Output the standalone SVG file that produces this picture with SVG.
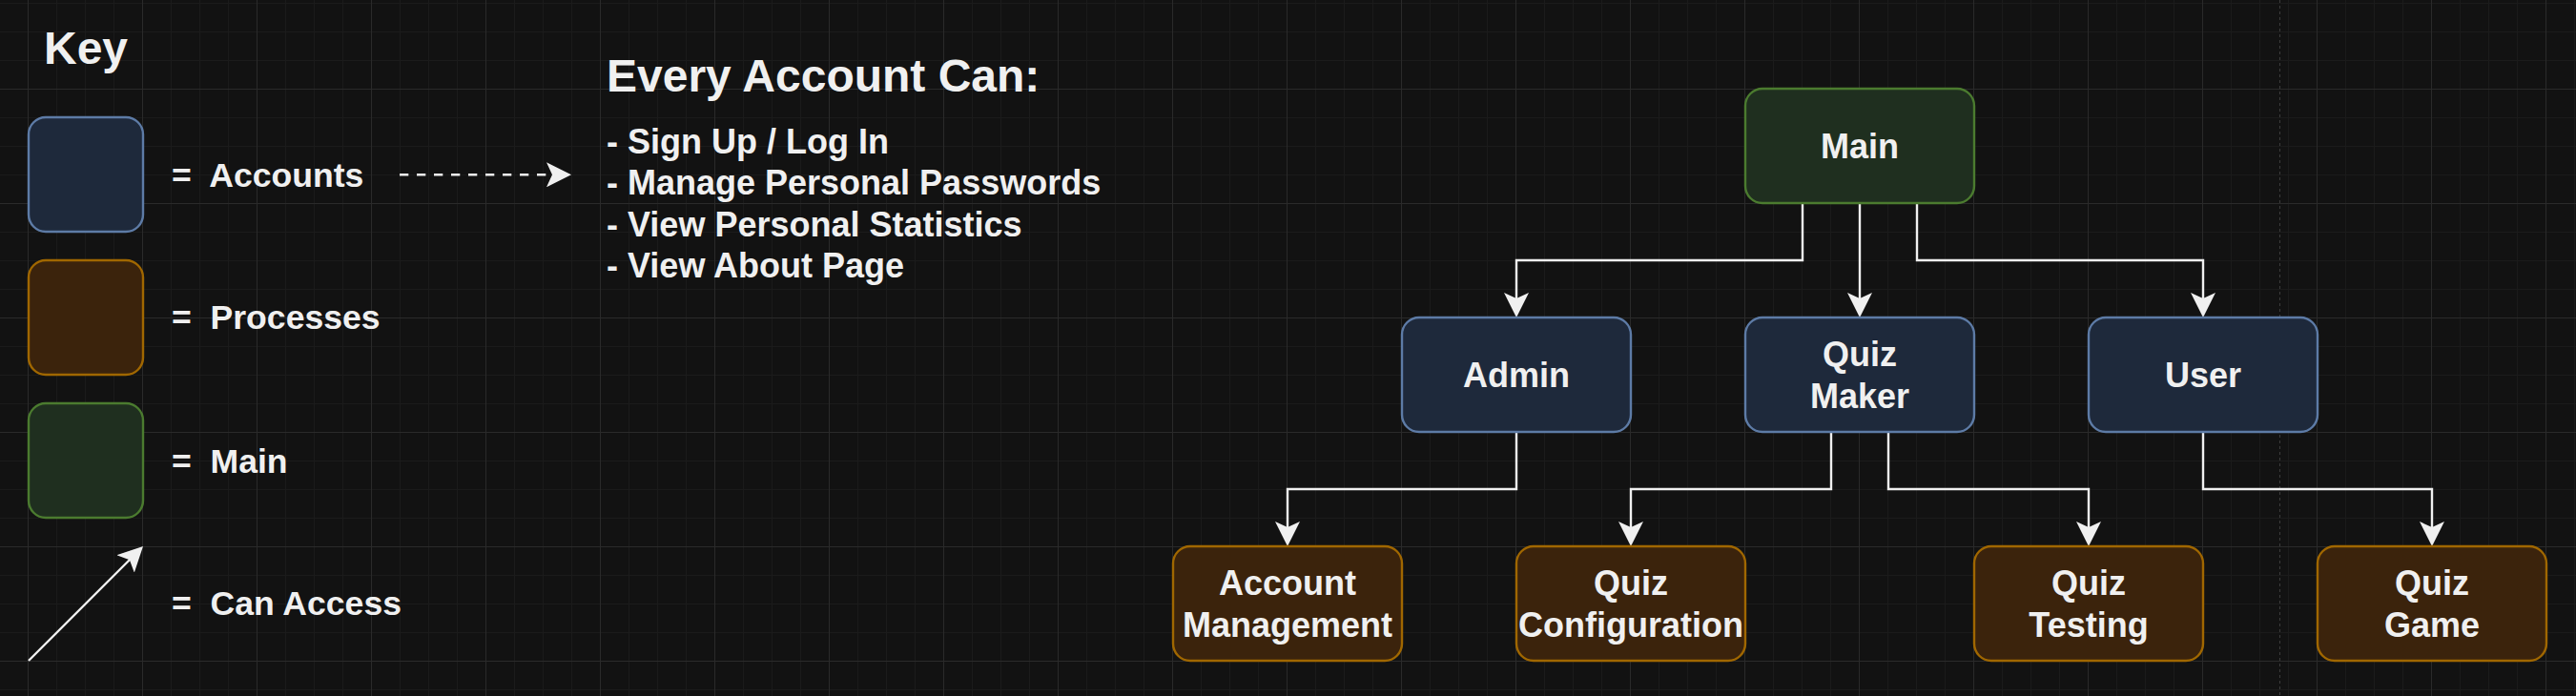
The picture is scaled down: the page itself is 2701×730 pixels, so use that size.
<svg xmlns="http://www.w3.org/2000/svg" width="2701" height="730" viewBox="0 0 2701 730">
<style>
text{font-family:"Liberation Sans",Arial,Helvetica,sans-serif;font-weight:bold;fill:#f0f0f0}
.lbl{font-size:36px;text-anchor:middle}
.acc{fill:#1e293b;stroke:#5d7ba6;stroke-width:2.4}
.proc{fill:#3b230c;stroke:#a06700;stroke-width:2.4}
.main{fill:#1f2f1f;stroke:#4b7b2f;stroke-width:2.4}
.edge{fill:none;stroke:#f0f0f0;stroke-width:2.4}
</style>
<defs>
<pattern id="grid" width="120" height="120" patternUnits="userSpaceOnUse" x="29" y="93">
<path d="M30.5 0V120M60.5 0V120M90.5 0V120M0 30.5H120M0 60.5H120M0 90.5H120" stroke="#1b1b1b" stroke-width="1" fill="none"/>
<path d="M0.5 0V120M0 0.5H120" stroke="#2a2a2a" stroke-width="1" fill="none"/>
</pattern>
<marker id="arr" viewBox="0 0 26 26" refX="20" refY="13" markerWidth="26" markerHeight="26" markerUnits="userSpaceOnUse" orient="auto">
<path d="M26,13 L0,0 L6,13 L0,26 Z" fill="#f0f0f0"/>
</marker>
</defs>
<rect width="2701" height="730" fill="#121212"/>
<rect width="2701" height="730" fill="url(#grid)"/>
<line x1="2390.5" y1="0" x2="2390.5" y2="730" stroke="#3c3c3c" stroke-width="1" stroke-dasharray="3 3"/>

<g id="key">
<text x="90" y="67" style="font-size:48px;text-anchor:middle">Key</text>
<rect class="acc" x="30" y="123" width="120" height="120" rx="18"/>
<rect class="proc" x="30" y="273" width="120" height="120" rx="18"/>
<rect class="main" x="30" y="423" width="120" height="120" rx="18"/>
<text x="180" y="196" xml:space="preserve" style="font-size:35.6px">=  Accounts</text>
<text x="180" y="345" xml:space="preserve" style="font-size:35.6px">=  Processes</text>
<text x="180" y="496" xml:space="preserve" style="font-size:35.6px">=  Main</text>
<text x="180" y="645" xml:space="preserve" style="font-size:35.6px">=  Can Access</text>
<path class="edge" d="M30,693 L145.76,577.24" marker-end="url(#arr)"/>
<path class="edge" d="M419,183.3 H593" stroke-dasharray="9.3 8.7" marker-end="url(#arr)"/>
</g>

<g id="every-account">
<text x="636" y="96" style="font-size:48px">Every Account Can:</text>
<text x="636" y="161" style="font-size:36px">- Sign Up / Log In</text>
<text x="636" y="204" style="font-size:36px">- Manage Personal Passwords</text>
<text x="636" y="247.5" style="font-size:36px">- View Personal Statistics</text>
<text x="636" y="290.5" style="font-size:36px">- View About Page</text>
</g>

<g id="connectors">
<path class="edge" d="M1890,213 V273 H1590 V327" marker-end="url(#arr)"/>
<path class="edge" d="M1950,213 V327" marker-end="url(#arr)"/>
<path class="edge" d="M2010,213 V273 H2310 V327" marker-end="url(#arr)"/>
<path class="edge" d="M1590,453 V513 H1350 V567" marker-end="url(#arr)"/>
<path class="edge" d="M1920,453 V513 H1710 V567" marker-end="url(#arr)"/>
<path class="edge" d="M1980,453 V513 H2190 V567" marker-end="url(#arr)"/>
<path class="edge" d="M2310,453 V513 H2550 V567" marker-end="url(#arr)"/>
</g>

<g id="node-main">
<rect class="main" x="1830" y="93" width="240" height="120" rx="18"/>
<text class="lbl" x="1950" y="166">Main</text>
</g>
<g id="node-admin">
<rect class="acc" x="1470" y="333" width="240" height="120" rx="18"/>
<text class="lbl" x="1590" y="406">Admin</text>
</g>
<g id="node-quiz-maker">
<rect class="acc" x="1830" y="333" width="240" height="120" rx="18"/>
<text class="lbl" x="1950" y="384.3">Quiz</text>
<text class="lbl" x="1950" y="427.5">Maker</text>
</g>
<g id="node-user">
<rect class="acc" x="2190" y="333" width="240" height="120" rx="18"/>
<text class="lbl" x="2310" y="406">User</text>
</g>
<g id="node-account-management">
<rect class="proc" x="1230" y="573" width="240" height="120" rx="18"/>
<text class="lbl" x="1350" y="624.3">Account</text>
<text class="lbl" x="1350" y="667.5">Management</text>
</g>
<g id="node-quiz-configuration">
<rect class="proc" x="1590" y="573" width="240" height="120" rx="18"/>
<text class="lbl" x="1710" y="624.3">Quiz</text>
<text class="lbl" x="1710" y="667.5">Configuration</text>
</g>
<g id="node-quiz-testing">
<rect class="proc" x="2070" y="573" width="240" height="120" rx="18"/>
<text class="lbl" x="2190" y="624.3">Quiz</text>
<text class="lbl" x="2190" y="667.5">Testing</text>
</g>
<g id="node-quiz-game">
<rect class="proc" x="2430" y="573" width="240" height="120" rx="18"/>
<text class="lbl" x="2550" y="624.3">Quiz</text>
<text class="lbl" x="2550" y="667.5">Game</text>
</g>
</svg>
